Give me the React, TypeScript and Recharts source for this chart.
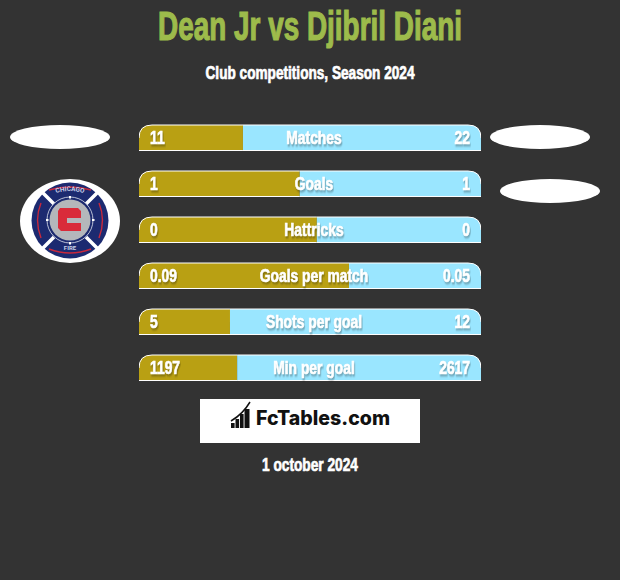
import React from 'react';
import { BarChart, Bar, XAxis, YAxis, LabelList } from 'recharts';

const categories = ['Matches', 'Goals', 'Hattricks', 'Goals per match', 'Shots per goal', 'Min per goal'];
const leftLabels = ['11', '1', '0', '0.09', '5', '1197'];
const rightLabels = ['22', '1', '0', '0.05', '12', '2617'];
// share of the bar taken by the left player
const leftShare = [30.4, 47, 52, 61.4, 26.6, 28.7];
const rightShare = [69.6, 53, 48, 38.6, 73.4, 71.3];

const data = categories.map((name, i) => ({
  name,
  left: leftShare[i],
  right: rightShare[i],
  leftLabel: leftLabels[i],
  rightLabel: rightLabels[i],
}));

const FONT = '"Liberation Sans", sans-serif';
const BG = '#333333';
const GOLD = '#b9a013';
const BLUE = '#9ae6ff';
const CHART_WIDTH = 342;
const RADIUS = 13;
const NARROW = 0.77;

const boldText = (fill: string, strokeWidth = 0.7) => ({
  fontFamily: FONT,
  fontWeight: 700,
  fill,
  stroke: fill,
  strokeWidth,
});

const LeftBar = ({ x, y, width, height }: any) => (
  <g>
    <path
      d={`M${x},${y + height} V${y + RADIUS} Q${x},${y} ${x + RADIUS},${y} H${x + width} V${y + height} Z`}
      fill={GOLD}
    />
    <line x1={x} x2={x + width} y1={y + height - 0.5} y2={y + height - 0.5} stroke="#fff" />
    <path d={`M${x},${y + RADIUS} Q${x},${y} ${x + RADIUS},${y} H${x + width}`} fill="none" stroke="#fff" />
  </g>
);

const RightBar = ({ x, y, width, height }: any) => (
  <g>
    <path
      d={`M${x},${y} H${x + width - RADIUS} Q${x + width},${y} ${x + width},${y + RADIUS} V${y + height} H${x} Z`}
      fill={BLUE}
    />
    <line x1={x} x2={x + width} y1={y + height - 0.5} y2={y + height - 0.5} stroke="#fff" />
    <path d={`M${x},${y} H${x + width - RADIUS} Q${x + width},${y} ${x + width},${y + RADIUS}`} fill="none" stroke="#fff" />
  </g>
);

const RowText = ({ x, y, value, anchor }: any) => (
  <text
    transform={`translate(${x},${y}) scale(${NARROW},1)`}
    textAnchor={anchor}
    fontSize={18}
    style={{ ...boldText('#fff'), filter: 'drop-shadow(1px 2px 1px rgba(0,0,0,0.3))' }}
  >
    {value}
  </text>
);

const LeftValue = ({ y, height, value }: any) => (
  <RowText x={11} y={y + height / 2 + 6} value={value} anchor="start" />
);
const RightValue = ({ y, height, value }: any) => (
  <RowText x={CHART_WIDTH - 11} y={y + height / 2 + 6} value={value} anchor="end" />
);
const CenterName = ({ y, height, value }: any) => (
  <RowText x={CHART_WIDTH / 2 + 4} y={y + height / 2 + 6} value={value} anchor="middle" />
);

const Badge = () => (
  <g>
    <ellipse cx={70} cy={221} rx={50} ry={42} fill="#fff" />
    <ellipse cx={70} cy={220.5} rx={38.5} ry={38} fill="#1c2a70" />
    <path d="M41,203 Q34,220 41,238 M99,203 Q106,220 99,238" fill="none" stroke="#c8283c" strokeWidth={1.4} />
    <path d="M49,190 Q70,184 91,190 M49,249 Q70,257 91,249" fill="none" stroke="#c8283c" strokeWidth={1.4} />
    <path d="M54,204 L40,190 M86,204 L100,190 M54,237 L40,251 M86,237 L100,251" stroke="#fff" strokeWidth={3.5} />
    <circle cx={70} cy={220} r={23} fill="#1c2a70" stroke="#dfe3ee" strokeWidth={0.8} />
    <circle cx={70} cy={220} r={20.5} fill="#b4b7bb" />
    <path d="M70,196 v2.5 M70,242 v2.5 M46,220 h2.5 M92,220 h2.5" stroke="#fff" strokeWidth={2} />
    <path d="M60,208 H78 L81,211 V218 H67 V223 H81 V231 H61 L58,228 V211 Z" fill="#d92b3a" />
    <path id="badgeArc" d="M48,196 Q70,186 92,196" fill="none" />
    <text fontSize={6.5} fontWeight={700} fontFamily="Roboto" fill="#c9cfe6" textAnchor="middle">
      <textPath href="#badgeArc" startOffset="50%">CHICAGO</textPath>
    </text>
    <text x={70} y={250} textAnchor="middle" fontSize={6} fontWeight={700} fontFamily="Roboto" fill="#c9cfe6">FIRE</text>
  </g>
);

const LogoIcon = () => (
  <g fill="#111">
    <rect x={231} y={423} width={3.6} height={5} />
    <rect x={235.5} y={419} width={3.6} height={9} />
    <rect x={240} y={414} width={3.6} height={14} />
    <rect x={244.5} y={409} width={5} height={19} />
    <path d="M231,421 Q243,414 250,402" fill="none" stroke="#111" strokeWidth={1.5} />
  </g>
);

export default function App() {
  return (
    <div style={{ position: 'absolute', left: 0, top: 0, width: 620, height: 580, background: BG, overflow: 'hidden' }}>
      <svg width={620} height={580} style={{ position: 'absolute', left: 0, top: 0 }}>
        <text x={310} y={40} textAnchor="middle" fontSize={40} textLength={304} lengthAdjust="spacingAndGlyphs" style={boldText('#9dbb4b', 1.2)}>
          Dean Jr vs Djibril Diani
        </text>
        <text x={310} y={79} textAnchor="middle" fontSize={18} textLength={209} lengthAdjust="spacingAndGlyphs" style={boldText('#fff')}>
          Club competitions, Season 2024
        </text>
        <ellipse cx={60} cy={137} rx={50} ry={12} fill="#fff" />
        <ellipse cx={540} cy={137} rx={50} ry={12} fill="#fff" />
        <ellipse cx={550} cy={191} rx={50} ry={12} fill="#fff" />
        <Badge />
        <rect x={200} y={399} width={220} height={44} fill="#fff" />
        <LogoIcon />
        <text x={256} y={425} fontSize={19.5} fontWeight={800} fontFamily="Inter, sans-serif" textLength={134} lengthAdjust="spacingAndGlyphs" fill="#111">
          FcTables.com
        </text>
        <text x={310} y={471} textAnchor="middle" fontSize={19} textLength={96} lengthAdjust="spacingAndGlyphs" style={boldText('#fff')}>
          1 october 2024
        </text>
      </svg>
      <div style={{ position: 'absolute', left: 139, top: 115 }}>
        <BarChart
          layout="vertical"
          width={CHART_WIDTH}
          height={276}
          data={data}
          margin={{ top: 0, right: 0, bottom: 0, left: 0 }}
          barSize={26}
        >
          <XAxis type="number" hide domain={[0, 100]} />
          <YAxis type="category" dataKey="name" hide />
          <Bar dataKey="left" stackId="a" isAnimationActive={false} shape={<LeftBar />} />
          <Bar dataKey="right" stackId="a" isAnimationActive={false} shape={<RightBar />}>
            <LabelList dataKey="leftLabel" content={<LeftValue />} />
            <LabelList dataKey="rightLabel" content={<RightValue />} />
            <LabelList dataKey="name" content={<CenterName />} />
          </Bar>
        </BarChart>
      </div>
    </div>
  );
}
